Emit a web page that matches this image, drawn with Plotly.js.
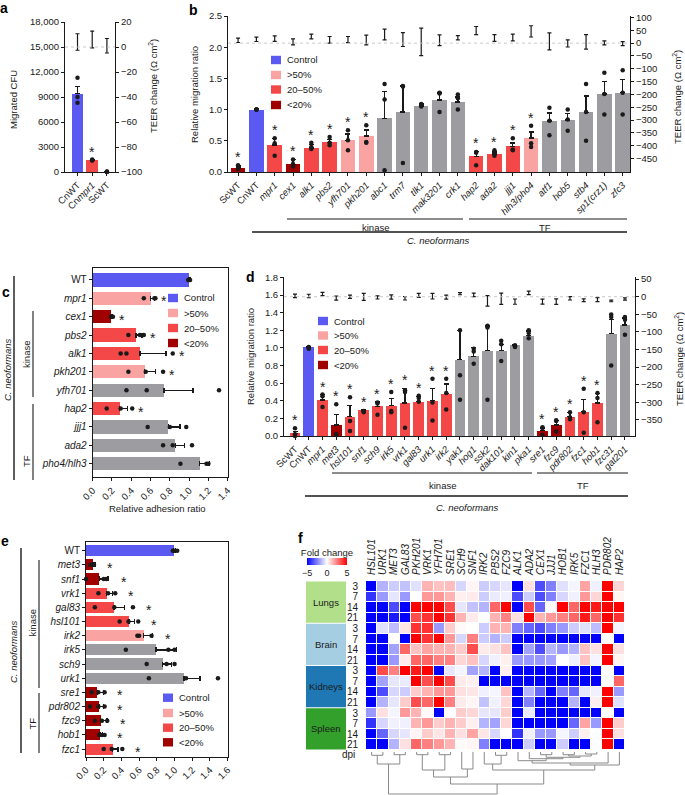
<!DOCTYPE html>
<html>
<head>
<meta charset="utf-8">
<script src="https://cdn.plot.ly/plotly-3.0.1.min.js"></script>
<style>body{margin:0;background:#fff}</style>
</head>
<body>
<div id="fig" style="width:685px;height:795px"></div>
<script>
const FONT = 'Liberation Sans, Arial, sans-serif';
const COL = {ctrl:'#5a5af2', hi:'#f9a3a3', mid:'#f44848', low:'#a00000', ns:'#9c9ca1'};
const legendNames = ['Control', '>50%', '20–50%', '<20%'];
const legendKeys = ['ctrl', 'hi', 'mid', 'low'];

// ---- a: migration CFU ----
const aLabels = ['CnWT', 'Cn<i>mpr1</i>', 'ScWT'];
const aClass = ['ctrl', 'mid', 'low'];
const aMeans = [9400, 1420, 40];
const aErr = [900, 40, 20];
const aPoints = [[11300, 9000, 8300], [1500, 1400, 1380], [60, 30, 10]];
const aSig = [false, true, false];
const aTeer = [4, 6, 1];
const aTeerErr = [6.6, 6.7, 5.8];

// ---- b: relative migration ratio ----
const bGenes = ['ScWT','CnWT','mpr1','cex1','alk1','pbs2','yfh701','pkh201','abc1','trm7','tlk1','mak3201','crk1','hap2','ada2','jjj1','hlh3/pho4','atf1','hob5','stb4','sp1(crz1)','zfc3'];
const bClass = ['low','ctrl','mid','low','mid','mid','hi','hi','ns','ns','ns','ns','ns','mid','mid','mid','hi','ns','ns','ns','ns','ns'];
const bMeans = [0.065,1.0,0.435,0.124,0.387,0.473,0.51,0.575,0.86,0.96,1.06,1.156,1.12,0.253,0.29,0.414,0.543,0.817,0.833,0.957,1.25,1.27];
const bErr = [0.03,0.01,0.1,0.08,0.05,0.05,0.1,0.1,0.43,0.42,0.03,0.11,0.08,0.08,0.03,0.05,0.1,0.13,0.1,0.26,0.2,0.21];
const bPoints = [[0.11,0.08,0.05],[1.0,1.0,1.0],[0.54,0.46,0.26],[0.2,0.13,0.09],[0.47,0.4,0.37],[0.56,0.47,0.43],[0.67,0.51,0.35],[0.75,0.48,0.47],[1.41,1.16,0.03],[1.38,1.37,0.145],[1.09,1.07,1.05],[1.27,1.26,0.96],[1.24,1.18,1.0],[0.32,0.31,0.11],[0.35,0.285,0.26],[0.54,0.36,0.35],[0.74,0.46,0.4],[1.03,0.82,0.59],[1.0,0.84,0.66],[1.41,0.96,0.5],[1.59,1.25,0.92],[1.63,1.27,0.92]];
const bTeer = [11,15,17.7,5,26,13,14,12,34,14,5,11,21,49,20,22,46,7,-1,5,1,-2];
const bTeerErr = [8.5,8.5,11,12,9,13,12,19,21,27,54,21,8,16,13,13,22,33,14,28,8,8];

// ---- c: relative adhesion ratio ----
const cGenes = ['WT','mpr1','cex1','pbs2','alk1','pkh201','yfh701','hap2','jjj1','ada2','pho4/hlh3'];
const cClass = ['ctrl','hi','low','mid','mid','hi','ns','mid','ns','ns','ns'];
const cMeans = [1.0,0.6,0.19,0.45,0.49,0.54,0.74,0.28,0.785,0.855,1.11];
const cErr = [0.01,0.04,0.015,0.06,0.27,0.11,0.3,0.08,0.12,0.1,0.1];
const cPoints = [[0.99,1.0,1.01],[0.53,0.64,0.65],[0.19,0.2,0.21],[0.37,0.49,0.53],[0.29,0.35,0.83],[0.37,0.55,0.73],[0.35,0.56,1.31],[0.145,0.29,0.41],[0.57,0.8,0.97],[0.73,0.83,1.03],[0.91,1.18,1.2]];

// ---- d: relative migration ratio (2nd screen) ----
const dGenes = ['ScWT','CnWT','mpr1','met3','hsl101','snf1','sch9','irk5','vrk1','gal83','urk1','irk2','yak1','hog1','ssk2','dak101','kin1','pka1','sre1','fzc9','pdr802','fzc1','hob1','fzc31','gat201'];
const dClass = ['mid','ctrl','mid','low','mid','mid','mid','mid','mid','mid','mid','mid','ns','ns','ns','ns','ns','ns','low','low','mid','mid','mid','ns','ns'];
const dMeans = [0.03,1.01,0.41,0.125,0.22,0.29,0.335,0.346,0.373,0.39,0.40,0.48,0.867,0.905,0.97,0.97,1.03,1.14,0.06,0.125,0.22,0.278,0.373,1.16,1.26];
const dErr = [0.02,0.005,0.06,0.12,0.13,0.01,0.05,0.08,0.17,0.06,0.14,0.11,0.33,0.1,0.28,0.07,0.01,0.05,0.03,0.05,0.05,0.14,0.11,0.16,0.08];
const dPoints = [[0.087,0.02,0.0],[1.01,1.0,0.99],[0.47,0.45,0.33],[0.36,0.02,0.01],[0.44,0.17,0.057],[0.285,0.28,0.27],[0.38,0.37,0.24],[0.5,0.285,0.27],[0.52,0.5,0.095],[0.456,0.43,0.39],[0.65,0.38,0.175],[0.65,0.487,0.3],[1.2,0.69,0.41],[0.99,0.96,0.82],[1.25,1.23,0.41],[1.08,1.04,0.85],[1.03,1.02,1.01],[1.2,1.17,1.11],[0.1,0.09,0.01],[0.18,0.17,0.05],[0.27,0.21,0.19],[0.536,0.27,0.038],[0.487,0.43,0.156],[1.38,1.35,0.8],[1.35,1.32,1.15]];
const dTeer = [2.4,2,7.5,-3.8,0,-0.5,-2,-1,-4.7,3.8,1.4,-1.4,8.5,5,-12,-6,-14,11,-14,-14,-4.7,-10,-8.5,-12,-6.6];
const dTeerErr = [5,5,4.5,5.7,4.7,10,4.5,6,4.7,5.6,8,5.6,3,5,15,16,7.5,5,7,8,4.7,4,5.6,2.4,3.3];

// ---- e: relative adhesion ratio (2nd screen) ----
const eGenes = ['WT','met3','snf1','vrk1','gal83','hsl101','irk2','irk5','sch9','urk1','sre1','pdr802','fzc9','hob1','fzc1'];
const eClass = ['ctrl','low','low','mid','mid','mid','hi','ns','ns','ns','low','low','low','low','mid'];
const eMeans = [0.99,0.08,0.15,0.233,0.316,0.486,0.65,0.79,0.866,1.107,0.128,0.15,0.166,0.158,0.30];
const eErr = [0.02,0.02,0.1,0.07,0.12,0.06,0.1,0.23,0.1,0.18,0.07,0.05,0.07,0.03,0.06];
const ePoints = [[0.98,1.0,1.03],[0.05,0.07,0.09],[0.0,0.2,0.23],[0.14,0.25,0.33],[0.1,0.32,0.53],[0.38,0.48,0.59],[0.58,0.6,0.74],[0.45,0.93,1.0],[0.685,0.91,1.0],[0.71,1.13,1.49],[0.064,0.14,0.21],[0.045,0.14,0.21],[0.1,0.18,0.24],[0.15,0.18,0.21],[0.2,0.29,0.41]];

// ---- f: fold change heatmap ----
const fcGenes = ['HSL101','URK1','MET3','GAL83','PKH201','VRK1','YFH701','SRE1','SCH9','SNF1','IRK2','PBS2','FZC9','ALK1','ADA2','CEX1','JJJ1','HOB1','IRK5','FZC1','HLH3','PDR802','HAP2'];
const fcTissues = ['Lungs','Brain','Kidneys','Spleen'];
const fcTissueCol = ['#b2df8a','#a6cee3','#1f78b4','#33a02c'];
const fcDpi = ['3','7','14','21'];
const fcLungs = [
 [-5,-1.5,-1,-1.2,-0.6,1.5,1.2,1.3,-0.8,0.2,-1,-0.8,-0.5,-5,0.6,-3.5,-2.5,-0.6,-0.2,1.8,-0.3,5,0.8],
 [-4,-2,-0.5,-2,0,2,2,1.5,0.3,0.4,-1,-0.4,-0.3,-3.5,-1,-3.5,-2.5,-0.8,-0.3,2,0.8,5,0.2],
 [-5,-5,-3.5,-5,5,5,5,3.5,-0.5,-1.2,-1.5,3,5,-5,3.5,-3,0,5,3,5,4.5,5,5],
 [-5,-5,-4.5,-5,3.5,4,5,4,1.5,0.4,0,1.5,2.5,0.6,5,1.5,2,2.5,3,4.5,3,5,4]];
const fcBrain = [
 [-5,-0.6,-1.3,0.5,4,4,-2,1,0.1,0,-1,1.5,1.5,-2.5,-3,-3.5,-2.5,-2,-1,-0.6,-1.3,5,-0.2],
 [-5,-5,0,-5,5,4,5,2,-0.8,2.5,-1,-1.5,-1,-5,-5,-5,-5,-5,-5,-5,-5,0,-5],
 [-5,-5,-1.8,3,1.2,1.8,1.5,1.5,1,3.5,0.4,0.6,1.2,-5,-1.8,-3.5,-1.5,-2,-1.5,1.2,0.6,5,0.6],
 [-5,-5,-2,0.4,3,3,2.5,2.5,0.8,1.2,-0.8,-0.3,0.3,-2,-2,-2,-1.8,0,-0.3,1.2,-0.2,5,0.2]];
const fcKidneys = [
 [-5,3.5,2.5,5,4.5,5,-5,-0.5,-0.2,-1.8,-1.5,-5,0.3,-5,-5,-5,-5,-5,-5,-5,-5,0,-5],
 [-5,-1.8,-0.5,-0.4,5,3.5,5,3.5,0.4,0.3,-5,-5,-5,-5,-5,-5,-5,-5,-5,-5,-5,0,3],
 [-5,-3.5,-0.8,-1,1,1.5,2,2,0.6,0.5,-0.3,-0.2,1.2,-5,-1.5,-3,-5,-2.5,-3,-0.5,-0.3,5,-2],
 [-5,-1.5,-0.5,1,3.5,3,5,2.5,0.4,0.2,-1.2,-0.3,0.8,-5,-2.5,-5,-5,-5,-1.5,-5,0.3,5,-0.6]];
const fcSpleen = [
 [-2,0.6,-0.2,2,1.5,0.1,-5,0,1,0.8,-0.5,-0.5,1,-5,-0.4,-5,-5,-5,-5,-5,-5,0,-5],
 [-4,-0.8,-0.3,-0.3,1.5,2,1,1.5,1,0.3,-1.5,-1.8,0.8,-5,-5,-5,-5,-5,-3,1.8,-2,5,1],
 [-5,-3,-0.8,-0.5,0.2,1,0.5,1.5,0.6,1.8,0.5,-0.8,0,-4,-0.3,-2,-2,-0.2,-1,0.3,0,5,0.6],
 [-5,-5,-1.5,0.6,3,2.5,2,1.5,0.1,0.2,-2.5,-5,-5,-5,-1,-5,-5,-1,-5,-5,0,5,-5]];
// column dendrogram: [left, right, height]; new clusters are numbered from 23 on
const fcLinks = [
 [0,1,3.3],[2,3,2.7],[23,24,12],
 [4,5,2.7],[6,7,2.7],[26,27,18],
 [8,9,17],[28,29,25],
 [11,12,3.3],[10,31,12],
 [15,16,2.7],[17,18,2.7],[19,20,2],[34,35,4],[33,36,5.3],[14,37,6.7],[13,38,8.7],[39,21,11],[40,22,13],[32,41,18],
 [30,42,32],[25,43,42]
];

// ---------- helpers ----------
const W = 685, H = 795;
const X = px => px / W;
const Y = py => 1 - py / H;
const idx = arr => arr.map((_, i) => i);
const ital = g => (g === 'WT' || g.endsWith('WT')) ? g : '<i>' + g + '</i>';
const zeros = arr => arr.map(() => 0);
const ink = '#1a1a1a';

const AX = {showline:true, linecolor:ink, linewidth:1, ticks:'outside', ticklen:3, tickwidth:1,
  tickcolor:ink, showgrid:false, zeroline:false, fixedrange:true, tickfont:{size:9.5, color:ink}};
const ax = o => Object.assign({}, AX, o);

const traces = [];
const shapes = [];
const annotations = [];

function txt(x, y, text, o) {
  return Object.assign({xref:'paper', yref:'paper', x:X(x), y:Y(y), text, showarrow:false,
    xanchor:'center', yanchor:'middle', font:{size:9.5, color:ink}}, o || {});
}
function line(x0, y0, x1, y1, w) {
  return {type:'line', xref:'paper', yref:'paper', x0:X(x0), y0:Y(y0), x1:X(x1), y1:Y(y1),
    line:{color:ink, width:w || 1.1}};
}
function zeroLine(xa, ya) {
  shapes.push({type:'line', xref:xa + ' domain', yref:ya, x0:0, x1:1, y0:0, y1:0,
    line:{color:'#c4c4c4', width:0.9, dash:'dot'}});
}

function vBars(xa, ya, cls, means, errs, pts, width) {
  const xs = idx(means);
  traces.push({type:'bar', x:xs, y:means, xaxis:xa, yaxis:ya, width,
    marker:{color:cls.map(c => COL[c]), line:{width:0}},
    error_y:{type:'data', symmetric:false, array:errs, arrayminus:zeros(errs), color:ink, thickness:1.3, width:2.5}});
  const px = [], py = [];
  pts.forEach((p, i) => p.forEach(v => { px.push(i); py.push(v); }));
  traces.push({type:'scatter', mode:'markers', x:px, y:py, xaxis:xa, yaxis:ya, cliponaxis:false,
    marker:{size:4.5, color:ink}});
}
function hBars(xa, ya, cls, means, errs, pts, width) {
  const ys = idx(means);
  traces.push({type:'bar', orientation:'h', y:ys, x:means, xaxis:xa, yaxis:ya, width,
    marker:{color:cls.map(c => COL[c]), line:{width:0}},
    error_x:{type:'data', symmetric:false, array:errs, arrayminus:zeros(errs), color:ink, thickness:1.3, width:2.5}});
  const px = [], py = [];
  pts.forEach((p, i) => p.forEach(v => { py.push(i); px.push(v); }));
  traces.push({type:'scatter', mode:'markers', x:px, y:py, xaxis:xa, yaxis:ya, cliponaxis:false,
    marker:{size:4.5, color:ink}});
}
function teer(xa, ya, vals, errs) {
  traces.push({type:'scatter', mode:'markers', x:idx(vals), y:vals, xaxis:xa, yaxis:ya, cliponaxis:false,
    marker:{size:2, color:'rgba(0,0,0,0)'},
    error_y:{type:'data', array:errs, symmetric:true, color:ink, thickness:1.2, width:2}});
}
function starsV(xa, ya, sig, means, errs, pts) {
  sig.forEach((s, i) => {
    if (!s) return;
    const top = Math.max(means[i] + errs[i], ...pts[i]);
    annotations.push({xref:xa, yref:ya, x:i, y:top, text:'*', showarrow:false,
      yanchor:'bottom', yshift:-2, font:{size:14, color:ink}});
  });
}
function starsH(xa, ya, sig, means, errs, pts, off) {
  sig.forEach((s, i) => {
    if (!s) return;
    const end = Math.max(means[i] + errs[i], ...pts[i]) + off;
    annotations.push({xref:xa, yref:ya, x:end, y:i, text:'*', showarrow:false,
      xanchor:'left', yshift:-3, font:{size:14, color:ink}});
  });
}
function legendBox(x, ys) {
  legendKeys.forEach((k, i) => {
    shapes.push({type:'rect', xref:'paper', yref:'paper', x0:X(x), x1:X(x + 10), y0:Y(ys[i] + 4.2), y1:Y(ys[i] - 4.2),
      fillcolor:COL[k], line:{width:0}});
    annotations.push(txt(x + 14, ys[i], legendNames[i], {xanchor:'left'}));
  });
}
const sigOf = cls => cls.map(c => c !== 'ns' && c !== 'ctrl');
const teerTitle = 'TEER change (Ω cm<sup>2</sup>)';

// ---------- panel a ----------
vBars('x', 'y', aClass, aMeans, aErr, aPoints, 0.8);
teer('x', 'y2', aTeer, aTeerErr);
starsV('x', 'y', aSig, aMeans, aErr, aPoints);
zeroLine('x', 'y2');

// ---------- panel b ----------
vBars('x2', 'y3', bClass, bMeans, bErr, bPoints, 0.79);
teer('x2', 'y4', bTeer, bTeerErr);
starsV('x2', 'y3', sigOf(bClass), bMeans, bErr, bPoints);
zeroLine('x2', 'y4');
legendBox(271, [60, 75, 89.5, 105]);

// ---------- panel c ----------
hBars('x3', 'y5', cClass, cMeans, cErr, cPoints, 0.72);
starsH('x3', 'y5', sigOf(cClass), cMeans, cErr, cPoints, 0.04);
legendBox(168, [298, 313, 328, 343]);

// ---------- panel d ----------
vBars('x4', 'y6', dClass, dMeans, dErr, dPoints, 0.77);
teer('x4', 'y7', dTeer, dTeerErr);
starsV('x4', 'y6', sigOf(dClass), dMeans, dErr, dPoints);
zeroLine('x4', 'y7');
legendBox(318, [321, 335.5, 350, 365]);

// ---------- panel e ----------
hBars('x5', 'y8', eClass, eMeans, eErr, ePoints, 0.78);
starsH('x5', 'y8', sigOf(eClass), eMeans, eErr, ePoints, 0.12);
legendBox(163, [697.7, 713, 727.7, 742.3]);

// ---------- panel f ----------
const fcZ = [...fcLungs, ...fcBrain, ...fcKidneys, ...fcSpleen];
traces.push({type:'heatmap', z:fcZ, x:idx(fcGenes), y:idx(fcZ), xaxis:'x6', yaxis:'y9',
  zmin:-5, zmax:5, xgap:1, ygap:1, hoverongaps:false,
  colorscale:[[0,'rgb(0,0,255)'],[0.5,'rgb(255,255,255)'],[1,'rgb(255,0,0)']],
  colorbar:{orientation:'h', x:X(327), xanchor:'center', y:Y(561), yanchor:'middle',
    len:40, lenmode:'pixels', thickness:7, thicknessmode:'pixels', outlinewidth:0,
    tickvals:[-5,0,5], ticktext:['−5','0','5'], ticks:'', tickfont:{size:9, color:ink},
    title:{text:'Fold change', side:'top', font:{size:9.5, color:ink}}, xpad:0, ypad:0}});
fcTissues.forEach((t, k) => {
  shapes.push({type:'rect', xref:'paper', yref:'y9', x0:X(306), x1:X(346), y0:4 * k - 0.5 + 0.05, y1:4 * k + 3.5 - 0.05,
    fillcolor:fcTissueCol[k], line:{width:0}});
  annotations.push({xref:'paper', yref:'y9', x:X(326), y:4 * k + 1.5, text:t, showarrow:false,
    xanchor:'center', yanchor:'middle', font:{size:9.5, color:ink}});
});
annotations.push(txt(357, 754, 'dpi', {xanchor:'right', font:{size:10, color:ink}}));
// dendrogram
{
  const pos = idx(fcGenes).slice(), hgt = fcGenes.map(() => 0);
  const dx = [], dy = [];
  fcLinks.forEach(([l, r, h]) => {
    dx.push(pos[l], pos[l], pos[r], pos[r], null);
    dy.push(hgt[l], h, h, hgt[r], null);
    pos.push((pos[l] + pos[r]) / 2); hgt.push(h);
  });
  traces.push({type:'scatter', mode:'lines', x:dx, y:dy, xaxis:'x7', yaxis:'y10',
    line:{color:'#8a8a8a', width:1}, connectgaps:false, cliponaxis:false});
}

// ---------- group labels ----------
// b
shapes.push(line(287, 219, 463, 219), line(469, 219, 627, 219), line(252, 232, 627, 232, 1.4));
annotations.push(txt(375, 228, 'kinase'), txt(545, 228, 'TF'), txt(439, 241, '<i>C. neoformans</i>'));
// c
shapes.push(line(14, 276, 14, 480, 1.4), line(33, 311, 33, 397), line(33, 404, 33, 480));
annotations.push(txt(7, 370, '<i>C. neoformans</i>', {textangle:-90}), txt(26, 355, 'kinase', {textangle:-90}),
  txt(26, 461, 'TF', {textangle:-90}));
// d
shapes.push(line(332, 473, 532, 473), line(537, 473, 628, 473), line(305, 496, 628, 496, 1.4));
annotations.push(txt(442, 485, 'kinase'), txt(583, 485, 'TF'), txt(467, 507, '<i>C. neoformans</i>'));
// e
shapes.push(line(21, 548, 21, 753, 1.4), line(39, 560, 39, 688), line(39, 693, 39, 753));
annotations.push(txt(13, 652, '<i>C. neoformans</i>', {textangle:-90}), txt(31.5, 623, 'kinase', {textangle:-90}),
  txt(31.5, 723, 'TF', {textangle:-90}));

// ---------- axis titles & panel letters ----------
annotations.push(
  txt(14, 100, 'Migrated CFU', {textangle:-90}),
  txt(153, 86, teerTitle, {textangle:-90}),
  txt(195, 95, 'Relative migration ratio', {textangle:-90}),
  txt(677, 97, teerTitle, {textangle:-90}),
  txt(157, 508, 'Relative adhesion ratio'),
  txt(250, 357, 'Relative migration ratio', {textangle:-90}),
  txt(679, 359, teerTitle, {textangle:-90})
);
[['a', 4, 8], ['b', 193, 10], ['c', 6, 292], ['d', 250, 277], ['e', 5, 541], ['f', 300, 538]].forEach(([l, x, y]) =>
  annotations.push(txt(x, y, '<b>' + l + '</b>', {font:{size:14, color:'#000'}})));

const tv = (a, b, s) => { const o = []; for (let v = a; v <= b + 1e-9; v += s) o.push(+v.toFixed(4)); return o; };

const layout = {
  width:W, height:H, margin:{l:0, r:0, t:0, b:0}, showlegend:false,
  paper_bgcolor:'#fff', plot_bgcolor:'rgba(0,0,0,0)', bargap:0,
  font:{family:FONT, size:9.5, color:ink},
  // a
  xaxis:ax({domain:[X(65), X(115)], anchor:'y', range:[-0.85, 2.55], tickvals:idx(aLabels), ticktext:aLabels, tickangle:-45}),
  yaxis:ax({domain:[Y(172), Y(22)], anchor:'x', range:[0, 18000], tickvals:tv(0, 18000, 3000),
    ticktext:['0','3000','6000','9000','12,000','15,000','18,000']}),
  yaxis2:ax({overlaying:'y', side:'right', anchor:'x', range:[-100, 20], tickvals:tv(-100, 20, 20)}),
  // b
  xaxis2:ax({domain:[X(228), X(630)], anchor:'y3', range:[-0.55, 21.4], tickvals:idx(bGenes), ticktext:bGenes.map(ital), tickangle:-45}),
  yaxis3:ax({domain:[Y(172), Y(16)], anchor:'x2', range:[0, 2.5], tickvals:tv(0, 2.5, 0.5), tickformat:'.1f'}),
  yaxis4:ax({overlaying:'y3', side:'right', anchor:'x2', range:[-503, 106], tickvals:tv(-450, 100, 50)}),
  // c
  xaxis3:ax({domain:[X(92.7), X(227.7)], anchor:'y5', range:[0, 1.4], tickvals:tv(0, 1.4, 0.2), tickformat:'.1f', tickangle:-45, mirror:true}),
  yaxis5:ax({domain:[Y(477.3), Y(268)], anchor:'x3', range:[10.74, -0.65], tickvals:idx(cGenes), ticktext:cGenes.map(ital), mirror:true,
    tickfont:{size:10, color:ink}}),
  // d
  xaxis4:ax({domain:[X(284), X(635)], anchor:'y6', range:[-0.8, 24.73], tickvals:idx(dGenes), ticktext:dGenes.map(ital), tickangle:-45}),
  yaxis6:ax({domain:[Y(436), Y(277.4)], anchor:'x4', range:[0, 1.8], tickvals:tv(0, 1.8, 0.2), tickformat:'.1f'}),
  yaxis7:ax({overlaying:'y6', side:'right', anchor:'x4', range:[-395.7, 54.8], tickvals:tv(-350, 50, 50)}),
  // e
  xaxis5:ax({domain:[X(86), X(227.7)], anchor:'y8', range:[0, 1.6], tickvals:tv(0, 1.6, 0.2), tickformat:'.1f', tickangle:-45, mirror:true}),
  yaxis8:ax({domain:[Y(756.7), Y(542.3)], anchor:'x5', range:[14.54, -0.59], tickvals:idx(eGenes), ticktext:eGenes.map(ital), mirror:true,
    tickfont:{size:10, color:ink}}),
  // f heatmap
  xaxis6:{domain:[X(366), X(625)], anchor:'y9', side:'top', range:[-0.5, 22.5], tickvals:idx(fcGenes), ticktext:fcGenes.map(g => '<i>' + g + '</i>'),
    tickangle:-90, showline:false, showgrid:false, zeroline:false, ticks:'outside', ticklen:3, tickcolor:'rgba(0,0,0,0)', tickfont:{size:10, color:ink}, fixedrange:true},
  yaxis9:{domain:[Y(750), Y(581)], anchor:'x6', range:[15.5, -0.5], tickvals:idx(fcZ), ticktext:[...fcDpi, ...fcDpi, ...fcDpi, ...fcDpi],
    showline:false, showgrid:false, zeroline:false, ticks:'outside', ticklen:5, tickcolor:'rgba(0,0,0,0)', tickfont:{size:10, color:ink}, fixedrange:true},
  xaxis7:{domain:[X(366), X(625)], anchor:'y10', range:[-0.5, 22.5], visible:false, fixedrange:true},
  yaxis10:{domain:[Y(795), Y(752)], anchor:'x7', range:[43, 0], visible:false, fixedrange:true},
  shapes, annotations
};

Plotly.newPlot('fig', traces, layout, {staticPlot:true});
</script>
</body>
</html>
